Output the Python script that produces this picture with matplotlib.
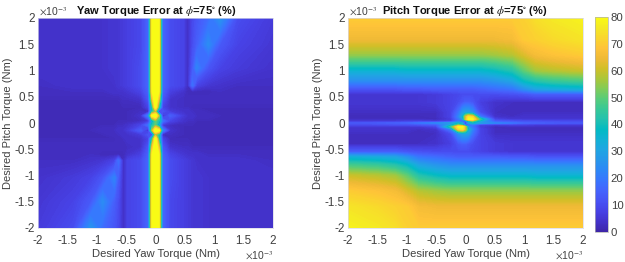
import matplotlib
matplotlib.use("Agg")
import matplotlib.pyplot as plt
import numpy as np
from matplotlib.colors import LinearSegmentedColormap

plt.rcParams['font.family'] = ['Liberation Sans', 'DejaVu Sans']
plt.rcParams['mathtext.fontset'] = 'stix'

# parula, every 3rd entry
parula_colors = [
    (0.2422, 0.1504, 0.6603), (0.2647, 0.1978, 0.7952), (0.2783, 0.2559, 0.8991),
    (0.2810, 0.3228, 0.9579), (0.2699, 0.3892, 0.9906), (0.2206, 0.4603, 0.9973),
    (0.1786, 0.5289, 0.9682), (0.1540, 0.5902, 0.9218), (0.1248, 0.6459, 0.8883),
    (0.0689, 0.6948, 0.8394), (0.0067, 0.7312, 0.7660), (0.1408, 0.7584, 0.6842),
    (0.2161, 0.7843, 0.5923), (0.3406, 0.8008, 0.4789), (0.5044, 0.7993, 0.3480),
    (0.6720, 0.7793, 0.2227), (0.8203, 0.7498, 0.1535), (0.9393, 0.7288, 0.2100),
    (0.9970, 0.7659, 0.2199), (0.9786, 0.8386, 0.1766), (0.9597, 0.9135, 0.1423),
    (0.9769, 0.9839, 0.0805),
]
parula = LinearSegmentedColormap.from_list("parula", parula_colors, N=256)

yaw_x = [-2, -1.4, -1.1, -.9, -.7, -.63, -.55, -.47, -.25, -.12, -.06, 0, .06, .12, .25, .47, .55, .63, .7, .9, 1.1, 1.4, 2]
yaw_y = [2, 1.5, 1.05, .72, .6, .45, .3, .22, .14, .04, -.04, -.14, -.22, -.3, -.45, -.6, -.72, -1.05, -1.5, -2]
yaw_err = [
    [4, 4, 4, 4, 5, 5, 6, 7, 9, 16, 77, 95, 77, 16, 10, 8, 3, 9, 12, 17, 26, 10, 6],
    [4, 4, 4, 4, 5, 5, 6, 7, 9, 16, 77, 95, 77, 16, 10, 8, 3, 10, 14, 24, 13, 8, 5],
    [4, 4, 4, 4, 5, 5, 6, 7, 10, 16, 77, 95, 77, 16, 10, 8, 3, 13, 22, 12, 8, 6, 4],
    [3, 4, 4, 4, 4, 5, 6, 7, 10, 16, 77, 95, 77, 16, 10, 8, 3, 18, 8, 5, 4, 3, 3],
    [3, 3, 3, 3, 4, 4, 4, 5, 8, 15, 76, 95, 76, 15, 7, 4, 2, 2, 2, 2, 3, 3, 3],
    [2, 2, 2, 2, 2, 2, 3, 3, 4, 12, 62, 92, 62, 12, 4, 3, 3, 3, 3, 3, 3, 3, 3],
    [2, 2, 2, 2, 2, 2, 2, 2, 2, 8, 40, 85, 40, 8, 4, 3, 3, 2, 2, 2, 2, 2, 2],
    [2, 2, 2, 2, 2, 2, 2, 2, 3, 3, 40, 55, 5, 12, 6, 4, 4, 3, 3, 2, 2, 2, 2],
    [2, 2, 2, 2, 2, 2, 2, 2, 4, 22, 80, 90, 55, 3, 14, 6, 4, 4, 3, 3, 2, 2, 2],
    [2, 2, 2, 2, 2, 2, 2, 2, 3, 6, 30, 50, 40, 18, 8, 4, 3, 3, 2, 2, 2, 2, 2],
    [2, 2, 2, 2, 2, 3, 3, 4, 8, 18, 40, 50, 30, 6, 3, 2, 2, 2, 2, 2, 2, 2, 2],
    [2, 2, 2, 3, 3, 4, 4, 6, 14, 3, 55, 90, 80, 22, 4, 2, 2, 2, 2, 2, 2, 2, 2],
    [2, 2, 2, 2, 3, 3, 4, 4, 6, 12, 5, 55, 40, 3, 3, 2, 2, 2, 2, 2, 2, 2, 2],
    [2, 2, 2, 2, 2, 3, 3, 4, 4, 8, 40, 85, 40, 8, 2, 2, 2, 2, 2, 2, 2, 2, 2],
    [3, 3, 3, 3, 3, 3, 3, 3, 4, 12, 62, 92, 62, 12, 4, 3, 3, 2, 2, 2, 2, 2, 2],
    [3, 3, 3, 2, 2, 2, 2, 4, 7, 15, 76, 95, 76, 15, 8, 5, 4, 4, 4, 3, 3, 3, 3],
    [3, 3, 4, 5, 8, 18, 3, 8, 10, 16, 77, 95, 77, 16, 10, 7, 6, 5, 4, 4, 4, 4, 3],
    [4, 6, 8, 12, 22, 13, 3, 8, 10, 16, 77, 95, 77, 16, 10, 7, 6, 5, 5, 4, 4, 4, 4],
    [5, 8, 13, 24, 14, 10, 3, 8, 10, 16, 77, 95, 77, 16, 9, 7, 6, 5, 5, 4, 4, 4, 4],
    [6, 10, 26, 17, 12, 9, 3, 8, 10, 16, 77, 95, 77, 16, 9, 7, 6, 5, 5, 4, 4, 4, 4],
]

pitch_x = [-2, -1.5, -1.2, -1, -.8, -.5, -.25, -.12, -.05, 0, .05, .12, .25, .5, .8, 1, 1.2, 1.5, 2]
pitch_y = [2, 1.6, 1.3, 1, .8, .65, .55, .4, .2, .12, .07, .03, 0, -.03, -.07, -.12, -.2, -.4, -.55, -.65, -.8, -1, -1.3, -1.6, -2]
pitch_err = [
    [70, 70, 70, 70, 70, 70, 70, 70, 70, 70, 70, 70, 70, 70, 70, 71, 74, 76, 78],
    [65, 65, 65, 65, 65, 65, 65, 65, 65, 65, 65, 65, 65, 65, 66, 70, 71, 73, 75],
    [55, 55, 55, 55, 55, 55, 55, 55, 55, 55, 55, 55, 55, 56, 58, 62, 66, 68, 70],
    [35, 35, 35, 36, 36, 36, 36, 36, 36, 36, 36, 36, 36, 38, 42, 50, 56, 58, 60],
    [24, 24, 24, 24, 24, 24, 24, 24, 24, 24, 24, 24, 24, 26, 30, 38, 42, 45, 47],
    [12, 12, 12, 13, 13, 14, 14, 14, 14, 14, 14, 14, 15, 17, 19, 25, 30, 32, 34],
    [5, 5, 5, 5, 5, 6, 8, 9, 10, 10, 10, 10, 10, 10, 11, 12, 14, 14, 14],
    [5, 5, 5, 5, 5, 6, 8, 10, 12, 14, 14, 12, 7, 4, 3, 3, 3, 3, 3],
    [3, 3, 3, 3, 3, 3, 8, 18, 28, 30, 30, 25, 10, 3, 3, 3, 3, 3, 3],
    [2, 2, 2, 2, 2, 3, 8, 22, 35, 60, 75, 70, 20, 4, 3, 4, 4, 4, 4],
    [3, 3, 3, 3, 3, 2, 6, 18, 25, 60, 80, 80, 45, 8, 5, 5, 5, 5, 5],
    [6, 6, 6, 7, 7, 6, 8, 20, 15, 4, 30, 45, 30, 14, 12, 11, 11, 10, 10],
    [12, 13, 14, 15, 18, 22, 28, 35, 30, 8, 30, 35, 28, 22, 18, 15, 14, 13, 12],
    [10, 10, 11, 11, 12, 14, 30, 45, 30, 4, 15, 20, 8, 6, 7, 7, 6, 6, 6],
    [5, 5, 5, 5, 5, 8, 45, 80, 80, 60, 25, 18, 6, 2, 3, 3, 3, 3, 3],
    [4, 4, 4, 4, 3, 4, 20, 70, 75, 60, 35, 22, 8, 3, 2, 2, 2, 2, 2],
    [3, 3, 3, 3, 3, 3, 10, 25, 30, 30, 28, 18, 8, 3, 3, 3, 3, 3, 3],
    [3, 3, 3, 3, 3, 4, 7, 12, 14, 14, 12, 10, 8, 6, 5, 5, 5, 5, 5],
    [14, 14, 14, 12, 11, 10, 10, 10, 10, 10, 10, 9, 8, 6, 5, 5, 5, 5, 5],
    [34, 32, 30, 25, 19, 17, 15, 14, 14, 14, 14, 14, 14, 14, 13, 13, 12, 12, 12],
    [47, 45, 42, 38, 30, 26, 24, 24, 24, 24, 24, 24, 24, 24, 24, 24, 24, 24, 24],
    [60, 58, 56, 50, 42, 38, 36, 36, 36, 36, 36, 36, 36, 36, 36, 36, 35, 35, 35],
    [70, 68, 66, 62, 58, 56, 55, 55, 55, 55, 55, 55, 55, 55, 55, 55, 55, 55, 55],
    [75, 73, 71, 70, 66, 65, 65, 65, 65, 65, 65, 65, 65, 65, 65, 65, 65, 65, 65],
    [78, 76, 74, 71, 70, 70, 70, 70, 70, 70, 70, 70, 70, 70, 70, 70, 70, 70, 70],
]

ticks = [-2, -1.5, -1, -0.5, 0, 0.5, 1, 1.5, 2]
tick_labels = ['-2', '-1.5', '-1', '-0.5', '0', '0.5', '1', '1.5', '2']
cbar_ticks = [0, 10, 20, 30, 40, 50, 60, 70, 80]
text_col = '#404040'

W, H = 625, 262
fig = plt.figure(figsize=(6.25, 2.62), dpi=100)


def panel(x0, x1, xs, ys, zs, title, title_x):
    ax = fig.add_axes([x0 / W, 1 - 228 / H, (x1 - x0) / W, 210 / H])
    ax.contourf(xs, ys, np.array(zs, dtype=float), levels=np.arange(0, 80.5, 0.5), cmap=parula,
                vmin=0, vmax=80, extend='max', antialiased=False)
    ax.set_xlim(-2, 2)
    ax.set_ylim(-2, 2)
    ax.set_xticks(ticks)
    ax.set_xticklabels(tick_labels)
    ax.set_yticks(ticks)
    ax.set_yticklabels(tick_labels)
    ax.tick_params(length=0, labelsize=8.4, labelcolor=text_col)
    ax.tick_params(axis='x', pad=5)
    ax.tick_params(axis='y', pad=2.5)
    for s in ax.spines.values():
        s.set_color('#d8d8e8')
        s.set_linewidth(0.5)
    ax.set_xlabel('Desired Yaw Torque (Nm)', fontsize=8.1, color=text_col, labelpad=1.5)
    ax.set_ylabel('Desired Pitch Torque (Nm)', fontsize=8, color=text_col, labelpad=1)
    fig.text(title_x / W, 1 - 10.5 / H, title, fontsize=8, fontweight='bold', color='#111111',
             ha='center', va='center')
    fig.text((x0 + 1) / W, 1 - 12 / H, r'$\times$10$^{-3}$', fontsize=7.5, color=text_col,
             ha='left', va='center')
    fig.text(x1 / W, 1 - 256 / H, r'$\times$10$^{-3}$', fontsize=7.5, color=text_col,
             ha='right', va='center')


panel(38, 273, yaw_x, yaw_y, yaw_err, r'Yaw Torque Error at $\phi$=75$^{\circ}$ (%)', 156)
panel(348, 583, pitch_x, pitch_y, pitch_err, r'Pitch Torque Error at $\phi$=75$^{\circ}$ (%)', 465)

cax = fig.add_axes([595 / W, 1 - 232 / H, 13 / W, 215 / H])
sm = plt.cm.ScalarMappable(norm=plt.Normalize(0, 80), cmap=parula)
cb = fig.colorbar(sm, cax=cax)
cb.set_ticks(cbar_ticks)
cb.ax.tick_params(length=0, labelsize=8.2, labelcolor=text_col, pad=2)
cb.outline.set_edgecolor('#b0b0b0')
cb.outline.set_linewidth(0.5)

fig.savefig('out.png', dpi=100)
